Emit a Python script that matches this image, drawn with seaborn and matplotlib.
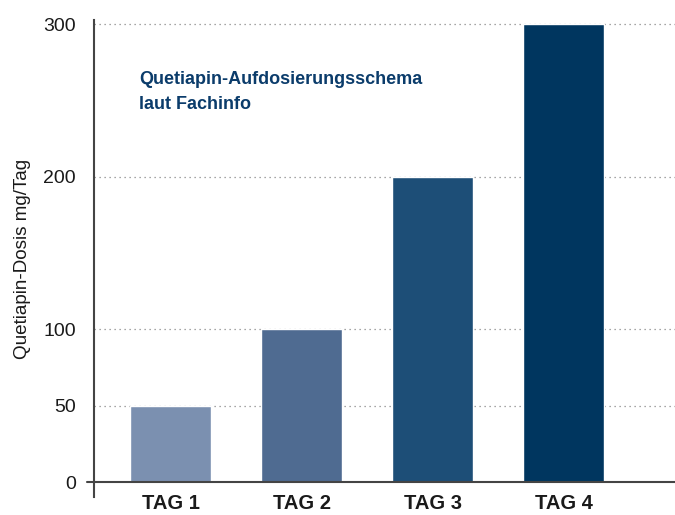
import matplotlib
matplotlib.use("Agg")
import matplotlib.pyplot as plt
import seaborn as sns
import pandas as pd

# data
tage = ["TAG 1", "TAG 2", "TAG 3", "TAG 4"]
dosis = [50, 100, 200, 300]
farben = ["#7b90b0", "#4f6b91", "#1d4e77", "#00365f"]
yticks = [0, 50, 100, 200, 300]

df = pd.DataFrame({"Tag": tage, "Dosis": dosis})

sns.set_theme(style="white")
plt.rcParams["font.family"] = ["Liberation Sans", "DejaVu Sans"]

fig = plt.figure(figsize=(6.75, 5.15), dpi=100)
ax = fig.add_axes([0.1393, 0.035, 0.8607, 0.926])

sns.barplot(data=df, x="Tag", y="Dosis", hue="Tag", palette=farben,
            width=0.62, legend=False, saturation=1, ax=ax, zorder=3)

ax.set_xlim(-0.584, 3.85)
ax.set_ylim(-9.8, 302.6)
ax.set_yticks(yticks)
ax.set_yticklabels([str(v) for v in yticks], fontsize=14, color="#1a1a1a")
ax.tick_params(axis="y", length=0, pad=13)
ax.tick_params(axis="x", length=0, pad=-2)
for lbl in ax.get_xticklabels():
    lbl.set_fontweight("bold")
    lbl.set_fontsize(14.5)
    lbl.set_color("#1a1a1a")

# gepunktete Hilfslinien
for v in yticks[1:]:
    ax.axhline(v, color="#888888", linestyle=(0, (1, 3)), linewidth=0.9, zorder=1)

# Grundlinie
ax.axhline(0, xmin=-0.012, xmax=1, color="#444444", linewidth=1.5,
           clip_on=False, zorder=4)

for s in ["top", "right", "bottom"]:
    ax.spines[s].set_visible(False)
ax.spines["left"].set_color("#444444")
ax.spines["left"].set_linewidth(1.5)

ax.set_xlabel("")
ax.set_ylabel("Quetiapin-Dosis mg/Tag", fontsize=13.6, color="#1a1a1a", labelpad=9)

ax.text(0.078, 0.893, "Quetiapin-Aufdosierungsschema\nlaut Fachinfo",
        transform=ax.transAxes, fontsize=13, fontweight="bold",
        color="#0b3c6b", va="top", ha="left", linespacing=1.6)

fig.savefig("out.png", dpi=100)
